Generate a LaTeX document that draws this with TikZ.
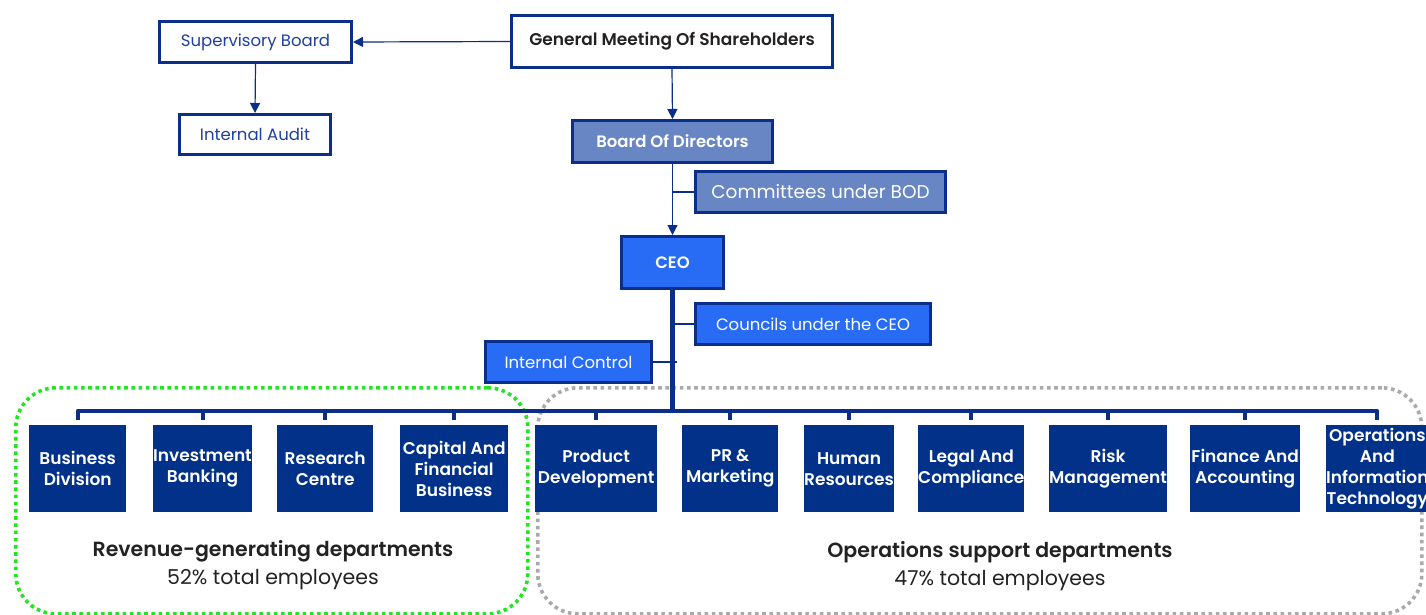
\documentclass[tikz,border=0pt]{standalone}
\usepackage{fontspec}
\setmainfont{Poppins}[BoldFont={Poppins SemiBold}]
\usetikzlibrary{arrows.meta}

\definecolor{navy}{RGB}{10,46,138}
\definecolor{deptblue}{RGB}{2,49,138}
\definecolor{bodblue}{RGB}{104,134,196}
\definecolor{ceoblue}{RGB}{40,108,245}
\definecolor{linkblue}{RGB}{30,64,160}
\definecolor{inkdark}{RGB}{34,34,34}
\definecolor{grpgreen}{RGB}{34,230,34}
\definecolor{grpgray}{RGB}{170,170,170}

\tikzset{
  box/.style={draw=navy, line width=3pt, inner sep=0pt, anchor=north west, align=center},
  whitebox/.style={box, fill=white, text=linkblue, font=\fontsize{16.5}{19}\selectfont},
  gmbox/.style={box, fill=white, text=inkdark, font=\fontsize{17}{20}\selectfont\bfseries},
  bodbox/.style={box, fill=bodblue, text=white, font=\fontsize{16.5}{19}\selectfont\bfseries},
  combox/.style={box, fill=bodblue, text=white, font=\fontsize{18.5}{22}\selectfont},
  ceobox/.style={box, fill=ceoblue, text=white, font=\fontsize{16.5}{19}\selectfont\bfseries},
  cnlbox/.style={box, fill=ceoblue, text=white, font=\fontsize{16.5}{20}\selectfont},
  dept/.style={fill=deptblue, text=white, inner sep=0pt, anchor=north west, align=center,
    minimum height=87pt, font=\fontsize{17}{21}\selectfont\bfseries},
  arr/.style={draw=navy, line width=1.2pt, -{Triangle[length=10pt,width=10pt]}},
  link/.style={draw=navy, line width=1.2pt},
  trunk/.style={draw=navy, line width=4.5pt},
  bus/.style={draw=navy, line width=4pt},
  tick/.style={draw=navy, line width=4pt},
  grpG/.style={draw=grpgreen, line width=3.6pt, dash pattern=on 3.6pt off 3.6pt, rounded corners=40pt,
    inner sep=0pt, anchor=north west},
  grpY/.style={draw=grpgray, line width=3.6pt, dash pattern=on 3.6pt off 3.6pt, rounded corners=40pt,
    inner sep=0pt, anchor=north west},
  grplabel/.style={align=center, text=inkdark, font=\fontsize{20.5}{28}\selectfont},
}

\begin{document}
\begin{tikzpicture}[x=1pt, y=-1pt]
\useasboundingbox (0,0) rectangle (1426,615);

% department groupings
\node[grpG, minimum width=512pt, minimum height=226pt] (revgrp) at (14,386) {};
\node[grpY, minimum width=884pt, minimum height=226pt] (opsgrp) at (536,386) {};

% governance boxes
\node[gmbox, minimum width=321pt, minimum height=52pt] (gm) at (510,14) {General Meeting Of Shareholders};
\node[whitebox, minimum width=192pt, minimum height=41pt] (sb) at (158,20) {Supervisory Board};
\node[whitebox, minimum width=151pt, minimum height=40pt] (ia) at (178,113) {Internal Audit};
\node[bodbox, minimum width=200pt, minimum height=42pt] (bod) at (571,119) {Board Of Directors};
\node[combox, minimum width=250pt, minimum height=41pt] (com) at (694,170) {Committees under BOD};
\node[ceobox, minimum width=102pt, minimum height=52pt] (ceo) at (620,235) {CEO};
\node[cnlbox, minimum width=235pt, minimum height=41pt] (cnl) at (694,302) {Councils under the CEO};
\node[cnlbox, minimum width=166pt, minimum height=41pt] (ictl) at (484,340) {Internal Control};

% departments
\node[dept, minimum width=97pt] (bd) at (29,425) {Business\\Division};
\node[dept, minimum width=97pt] (ib) at (153,425) {Investment\\Banking};
\node[dept, minimum width=96pt] (rc) at (277,425) {Research\\Centre};
\node[dept, minimum width=108pt] (cf) at (400,425) {Capital And\\Financial\\Business};
\node[dept, minimum width=122pt] (pd) at (535,425) {Product\\Development};
\node[dept, minimum width=96pt] (pr) at (682,425) {PR \&\\Marketing};
\node[dept, minimum width=88pt] (hr) at (804,425) {Human\\Resources};
\node[dept, minimum width=105pt] (lc) at (918,425) {Legal And\\Compliance};
\node[dept, minimum width=115pt] (rm) at (1049,425) {Risk\\Management};
\node[dept, minimum width=110pt] (fa) at (1190,425) {Finance And\\Accounting};
\node[dept, minimum width=100pt] (oi) at (1326,425) {Operations\\And\\Information\\Technology};

% group captions
\node[grplabel] (revlbl) at (273,565) {\textbf{Revenue-generating departments}\\52\% total employees};
\node[grplabel] (opslbl) at (1000,566) {\textbf{Operations support departments}\\47\% total employees};

% reporting lines
\coordinate (busy) at (0,411);
\draw[arr] (gm.west) -- (sb.east);
\draw[arr] (sb.south) -- (ia.north);
\draw[arr] (gm.south) -- (bod.north);
\draw[arr] (bod.south) -- (ceo.north);
\draw[link] (bod.south |- com.west) -- (com.west);
\draw[trunk] (ceo.south) -- (ceo.south |- busy);
\draw[link] (ceo.south |- cnl.west) -- (cnl.west);
\draw[link] (ictl.east) -- ([xshift=4pt]ictl.east -| ceo.south);

% distribution bus with drops to each department
\draw[bus, line join=round] ([yshift=5pt]bd.north) -- (bd.north |- busy) -- (oi.north |- busy) -- ([yshift=5pt]oi.north);
\foreach \d in {ib,rc,cf,pd,pr,hr,lc,rm,fa}
  \draw[tick] (\d.north |- busy) -- ([yshift=5pt]\d.north);
\end{tikzpicture}
\end{document}
